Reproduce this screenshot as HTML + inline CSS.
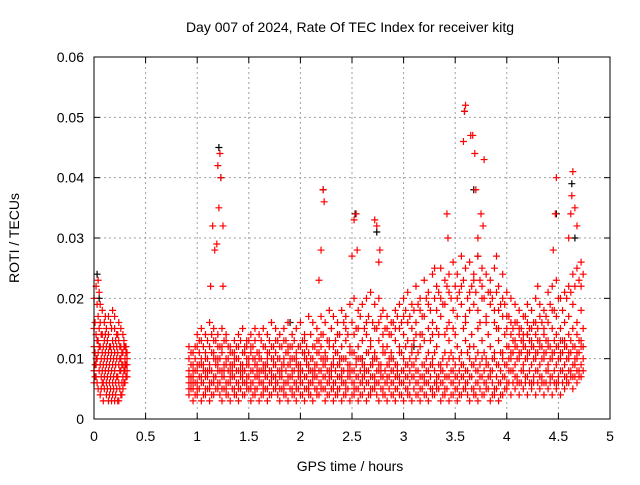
<!DOCTYPE html>
<html><head><meta charset="utf-8"><style>
body{margin:0;background:#fff;font-family:"Liberation Sans",sans-serif;}
svg text{font-family:"Liberation Sans",sans-serif;font-size:14px;fill:#000;}
</style></head><body>
<svg id="chart" width="640" height="480">
<rect width="640" height="480" fill="#fff"/>
<text x="350" y="32" text-anchor="middle">Day 007 of 2024, Rate Of TEC Index for receiver kitg</text>
<text x="350" y="471" text-anchor="middle">GPS time / hours</text>
<text transform="translate(19,238) rotate(-90)" text-anchor="middle">ROTI / TECUs</text>
<g id="grid"></g><g id="ticks"></g><g id="black"></g><g id="red"></g>
<rect x="94" y="57" width="516" height="362" fill="none" stroke="#000"/>
</svg>
<script>
const xTicks=[0,0.5,1,1.5,2,2.5,3,3.5,4,4.5,5];
const xTickLabels=["0","0.5","1","1.5","2","2.5","3","3.5","4","4.5","5"];
const yTicks=[0,0.01,0.02,0.03,0.04,0.05,0.06];
const yTickLabels=["0","0.01","0.02","0.03","0.04","0.05","0.06"];
// bulk data: "hour:roti*1000 values"
const bulk=[
"0.00:8,12,15,20,6","0.02:10,14,22,9,7","0.04:5,11,17,23,13","0.06:4,9,12,16,19","0.08:6,8,14,11,18",
"0.10:5,10,13,7,16","0.12:4,9,15,12,6","0.14:3,8,11,14,17","0.16:5,7,12,16,10","0.18:4,9,13,18,6",
"0.20:3,8,11,15,17","0.22:5,10,14,7,12","0.24:3,6,9,13,16","0.26:4,8,12,15,10","0.28:5,7,11,14,9",
"0.30:6,9,12,8,10","0.32:7,10,11,9,8",
"0.92:4,6,8,10,12,7,5","0.96:3,5,7,9,11,6,8","1.00:4,6,9,12,14,5,8","1.04:3,7,10,13,15,6,9",
"1.08:4,5,8,11,14,7,10","1.12:3,6,9,12,16,5,8","1.16:4,7,10,13,15,6,11","1.20:5,6,9,12,14,8,10",
"1.24:3,5,8,11,15,7,12","1.28:4,6,9,13,14,5,10","1.32:3,7,8,11,12,6,9","1.36:4,5,9,10,13,7,11",
"1.40:3,6,8,12,14,5,10","1.44:4,7,9,11,15,6,8","1.48:5,6,10,12,13,7,9","1.52:3,5,8,11,14,6,12",
"1.56:4,7,9,13,15,5,10","1.60:3,6,8,10,14,7,11","1.64:4,5,9,12,15,6,8","1.68:3,7,10,11,14,5,9",
"1.72:4,6,8,12,16,7,10","1.76:5,7,9,11,15,6,13","1.80:3,5,8,12,14,7,10","1.84:4,6,10,13,15,5,9",
"1.88:3,7,9,11,16,6,12","1.92:4,5,8,12,14,7,10","1.96:3,6,9,10,15,5,11","2.00:4,7,8,12,16,6,9",
"2.04:3,5,10,13,14,7,11","2.08:4,6,9,11,17,5,8","2.12:3,7,8,12,16,6,10","2.16:4,5,9,13,15,7,11",
"2.20:5,6,10,12,17,8,14","2.24:3,7,9,11,16,5,10","2.28:4,6,8,13,18,7,12","2.32:3,5,10,12,17,6,9",
"2.36:4,7,9,14,16,5,11","2.40:3,6,8,12,18,7,10","2.44:4,5,10,13,17,6,15","2.48:3,7,9,11,19,8,12",
"2.52:4,6,8,14,20,5,11","2.56:3,5,10,12,18,7,15","2.60:4,7,9,13,19,6,10","2.64:3,6,11,14,20,8,16",
"2.68:4,5,9,12,21,7,13","2.72:5,7,10,15,19,6,11","2.76:3,6,8,13,20,9,16","2.80:4,5,11,14,18,7,12",
"2.84:3,7,9,12,17,6,15","2.88:4,6,10,14,16,8,11","2.92:3,5,9,13,18,7,15","2.96:4,7,11,15,19,6,12",
"3.00:3,6,10,14,20,8,17","3.04:4,5,9,13,21,7,16","3.08:3,7,11,15,19,9,12","3.12:4,6,10,16,22,8,14",
"3.16:3,5,12,14,20,7,18","3.20:4,7,9,17,23,6,13","3.24:3,6,11,15,21,8,19","3.28:4,5,10,16,24,9,14",
"3.32:5,7,12,18,22,6,15","3.36:3,6,9,17,25,8,20","3.40:4,5,11,19,23,7,14","3.44:3,7,13,16,24,10,21",
"3.48:4,6,10,18,26,8,15","3.52:3,5,12,20,24,7,17","3.56:4,7,11,19,27,9,22","3.60:5,6,13,17,25,8,16",
"3.64:3,7,10,21,26,12,18","3.68:4,5,12,19,24,9,23","3.72:3,6,11,18,27,8,15","3.76:4,7,13,20,25,10,22",
"3.80:5,6,10,17,24,9,16","3.84:3,7,12,19,23,8,21","3.88:4,5,11,16,25,10,18","3.92:3,6,13,18,22,9,15",
"3.96:4,7,10,17,24,11,20","4.00:5,6,12,15,21,9,17","4.04:4,8,11,14,20,10,16","4.08:5,7,13,16,19,9,12",
"4.12:4,6,10,15,18,11,14","4.16:5,8,12,14,17,9,13","4.20:4,7,11,16,19,10,14","4.24:5,6,13,15,18,9,12",
"4.28:4,8,10,14,20,11,16","4.32:5,7,12,17,19,9,13","4.36:4,6,11,15,18,10,14","4.40:5,8,13,16,21,9,12",
"4.44:4,7,10,18,22,11,15","4.48:5,6,12,17,23,9,14","4.52:4,8,11,15,20,10,13","4.56:5,7,13,16,21,9,12",
"4.60:6,8,10,14,22,11,17","4.64:5,7,12,15,24,9,19","4.68:6,8,11,16,25,10,14","4.72:7,9,12,18,26,13,22"
];
const bulk2=[
"0.01:9,11,16,7","0.03:6,13,19,10","0.05:8,12,15,21","0.07:5,7,10,14","0.09:3,6,9,12","0.11:8,11,14,17",
"0.13:5,7,10,13","0.15:4,6,9,12","0.17:3,8,11,15","0.19:5,7,10,12","0.21:4,6,9,13","0.23:3,7,11,14",
"0.25:5,8,10,12","0.27:4,6,9,11","0.29:6,8,12,13","0.31:7,9,11,12",
"0.94:5,7,9,11,6","0.98:4,8,10,12,6","1.02:5,7,11,13,9","1.06:4,8,9,12,6","1.10:5,7,10,13,8","1.14:4,8,11,14,6",
"1.18:5,7,9,13,10","1.22:4,8,10,12,6","1.26:5,7,9,13,8","1.30:4,8,10,12,6","1.34:5,7,9,11,8","1.38:4,8,10,12,6",
"1.42:5,7,9,13,8","1.46:4,8,11,12,6","1.50:5,7,9,13,10","1.54:4,8,10,12,6","1.58:5,7,9,11,8","1.62:4,8,10,13,6",
"1.66:5,7,9,12,8","1.70:4,8,11,13,6","1.74:5,7,9,12,10","1.78:4,8,10,13,6","1.82:5,7,9,12,8","1.86:4,8,11,13,6",
"1.90:5,7,9,12,10","1.94:4,8,10,13,6","1.98:5,7,9,12,8","2.02:4,8,11,13,6","2.06:5,7,9,12,10","2.10:4,8,10,14,6",
"2.14:5,7,9,12,8","2.18:4,8,11,13,6","2.22:5,7,9,14,10","2.26:4,8,10,13,6","2.30:5,7,9,15,8","2.34:4,8,11,13,6",
"2.38:5,7,9,14,10","2.42:4,8,10,16,6","2.46:5,7,9,14,8","2.50:4,8,11,16,6","2.54:5,7,9,15,10","2.58:4,8,10,17,6",
"2.62:5,7,9,15,8","2.66:4,8,11,17,6","2.70:5,7,9,16,10","2.74:4,8,10,15,6","2.78:5,7,9,17,8","2.82:4,8,11,15,6",
"2.86:5,7,9,14,10","2.90:4,8,10,16,6","2.94:5,7,9,17,8","2.98:4,8,11,16,6","3.02:5,7,9,18,12","3.06:4,8,10,17,6",
"3.10:5,7,9,18,13","3.14:4,8,11,19,6","3.18:5,7,9,17,14","3.22:4,8,10,20,6","3.26:5,7,9,18,13","3.30:4,8,11,20,6",
"3.34:5,7,9,21,14","3.38:4,8,10,19,6","3.42:5,7,9,22,15","3.46:4,8,11,20,6","3.50:5,7,9,22,14","3.54:4,8,10,21,6",
"3.58:5,7,9,23,15","3.62:4,8,11,20,6","3.66:5,7,9,22,14","3.70:4,8,10,21,6","3.74:5,7,9,23,16","3.78:4,8,11,20,6",
"3.82:5,7,9,21,14","3.86:4,8,10,20,6","3.90:5,7,9,21,15","3.94:4,8,11,19,6","3.98:5,7,9,19,14","4.02:6,8,10,17,12",
"4.06:6,8,11,15,13","4.10:6,7,10,16,12","4.14:6,8,11,15,13","4.18:6,7,10,17,12","4.22:6,8,11,15,13","4.26:6,7,10,16,12",
"4.30:6,8,11,15,13","4.34:6,7,10,16,12","4.38:6,8,11,17,13","4.42:6,7,10,19,12","4.46:6,8,11,18,13","4.50:6,7,10,20,12",
"4.54:6,8,11,18,13","4.58:6,7,10,20,12","4.62:7,8,11,21,13","4.66:7,9,10,22,12","4.70:7,8,11,23,13","4.74:8,10,12,24,15"
];
const spikeHours=[1.13,1.15,1.17,1.19,1.20,1.21,1.22,1.23,1.25,1.25,2.18,2.20,2.22,2.23,2.50,2.52,2.54,2.55,2.72,2.74,2.77,2.76,3.42,3.43,3.58,3.59,3.60,3.65,3.67,3.69,3.70,3.75,3.78,3.77,3.72,4.47,4.48,4.45,4.62,4.63,4.64,4.66,4.68,4.60,4.30,3.30,3.90];
const spikeValues=[22,32,28,29,42,35,44,40,32,22,23,28,38,36,27,33,34,28,33,32,28,26,34,30,46,51,52,47,47,44,38,34,43,32,30,34,40,28,34,37,41,35,32,30,22,25,27];
const blackHours=[0.03,0.05,1.21,1.23,2.22,2.53,2.74,3.59,3.68,3.72,4.48,4.63,4.66,1.9,3.1,2.6,4.2];
const blackValues=[24,20,45,40,38,34,31,51,38,27,34,39,30,16,12,10,14];
const NS="http://www.w3.org/2000/svg";
const X=h=>94+h*103.2, Y=v=>419-v*6033.3;
const g=document.getElementById('grid'), t=document.getElementById('ticks');
function el(p,tag,a){const e=document.createElementNS(NS,tag);for(const k in a)e.setAttribute(k,a[k]);p.appendChild(e);return e;}
xTicks.forEach((v,i)=>{
 if(i>0&&i<xTicks.length-1){const l=el(g,'line',{x1:X(v),x2:X(v),y1:57,y2:419,stroke:'#a0a0a0','stroke-dasharray':'2,3'});
 
 }
 el(t,'line',{x1:X(v),x2:X(v),y1:419,y2:413,stroke:'#000'});el(t,'line',{x1:X(v),x2:X(v),y1:57,y2:63,stroke:'#000'});
 const tx=el(t,'text',{x:X(v),y:441,'text-anchor':'middle'});tx.textContent=xTickLabels[i];
 
 
});
yTicks.forEach((v,i)=>{
 if(i>0&&i<yTicks.length-1){const l=el(g,'line',{x1:94,x2:610,y1:Y(v),y2:Y(v),stroke:'#a0a0a0','stroke-dasharray':'2,3'});
 
 }
 el(t,'line',{x1:94,x2:100,y1:Y(v),y2:Y(v),stroke:'#000'});el(t,'line',{x1:604,x2:610,y1:Y(v),y2:Y(v),stroke:'#000'});
 const tx=el(t,'text',{x:84,y:Y(v)+5,'text-anchor':'end'});tx.textContent=yTickLabels[i];
 
 
});
function plus(p,h,v,c){const x=X(h),y=Y(v/1000);
 const m=el(p,'path',{d:`M${x-3.5} ${y}H${x+3.5}M${x} ${y-3.5}V${y+3.5}`,stroke:c,'stroke-width':1.2});
 
 }
const bk=document.getElementById('black'), rd=document.getElementById('red');
blackHours.forEach((h,i)=>plus(bk,h,blackValues[i],'#000'));
bulk.concat(bulk2).forEach(s=>{const [h,vs]=s.split(':');vs.split(',').forEach(v=>plus(rd,+h,+v,'#f00'));});
spikeHours.forEach((h,i)=>plus(rd,h,spikeValues[i],'#f00'));
</script>
</body></html>
